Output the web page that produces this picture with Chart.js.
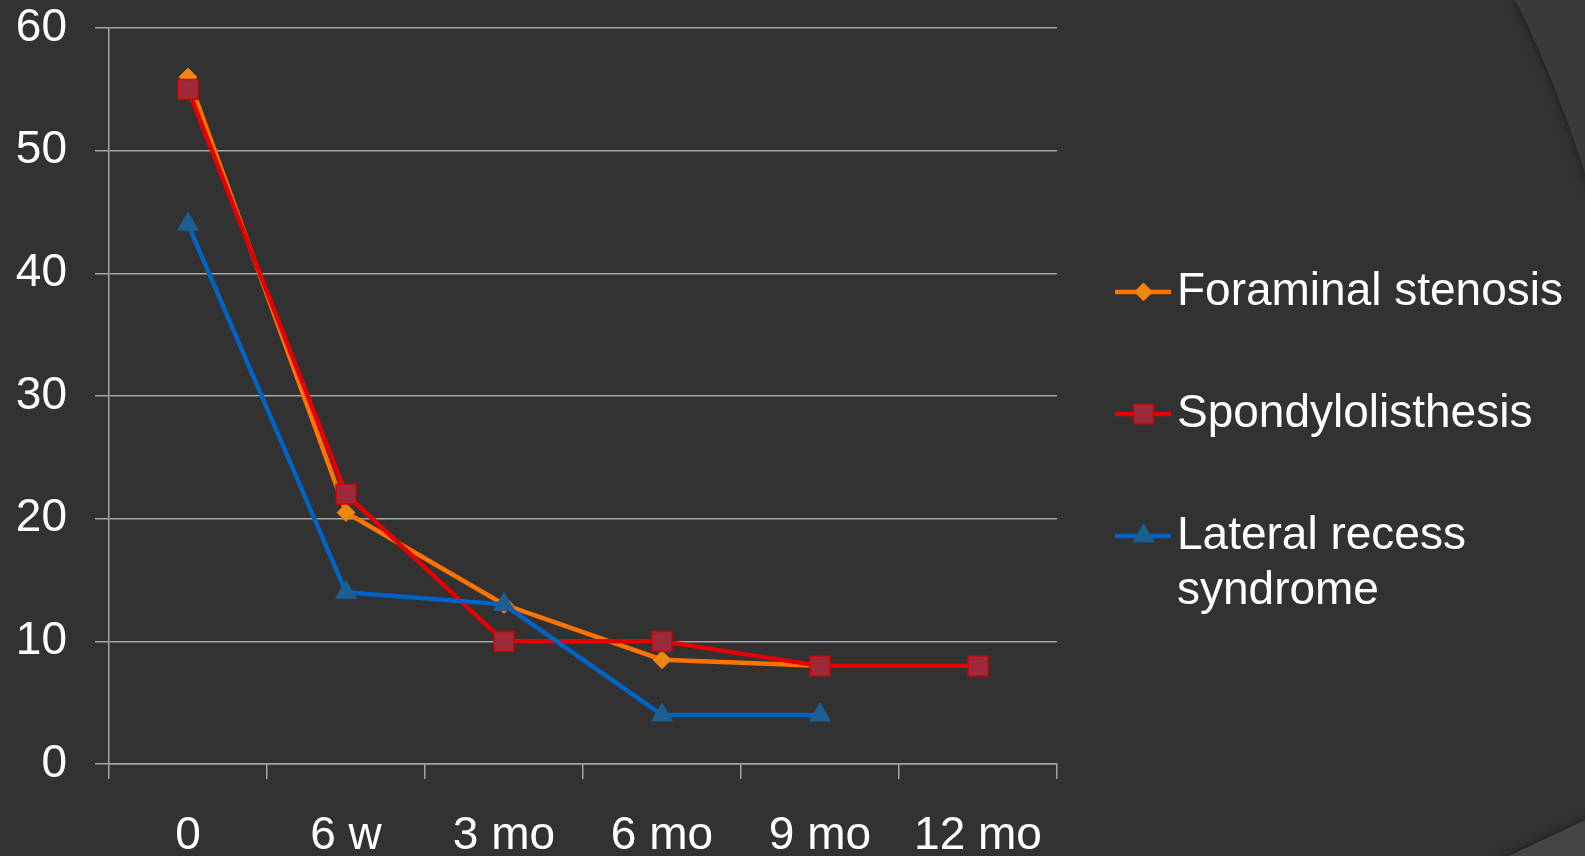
<!DOCTYPE html>
<html>
<head>
<meta charset="utf-8">
<script src="https://cdn.jsdelivr.net/npm/chart.js@4.4.1/dist/chart.umd.min.js"></script>
<style>
html, body { margin: 0; padding: 0; background: #323232; overflow: hidden; }
#chart { display: block; }
</style>
</head>
<body>
<canvas id="chart" width="1585" height="856"></canvas>
<script>
// Data
const categories = ['0', '6 w', '3 mo', '6 mo', '9 mo', '12 mo'];
const foraminal = [56, 20.5, 13, 8.5, 8, null];
const spondylolisthesis = [55, 22, 10, 10, 8, 8];
const lateralRecess = [44, 14, 13, 4, 4, null];
const yTicks = [0, 10, 20, 30, 40, 50, 60];
const seriesNames = ['Foraminal stenosis', 'Spondylolisthesis', 'Lateral recess syndrome'];
const legendLines = ['Foraminal stenosis', 'Spondylolisthesis', ['Lateral recess', 'syndrome']];

const fontFamily = "'Liberation Sans', Arial, sans-serif";
const gridColor = '#a4a4a4';

// small line+marker picture for each legend entry, like the Excel legend
function legendGlyph(lineColor, pointStyle, radius, fill, border) {
    const c = document.createElement('canvas');
    c.width = 56;
    c.height = 28;
    const g = c.getContext('2d');
    g.strokeStyle = lineColor;
    g.lineWidth = 4.5;
    g.beginPath();
    g.moveTo(0, 14);
    g.lineTo(56, 14);
    g.stroke();
    g.fillStyle = fill;
    g.strokeStyle = border;
    g.lineWidth = 1;
    Chart.helpers.drawPoint(g, { pointStyle: pointStyle, radius: radius, rotation: 0, borderWidth: 1 }, 28, 14);
    return c;
}

const glyphs = [
    legendGlyph('#ff7400', 'rectRot', 9, '#f0880f', '#f07800'),
    legendGlyph('#e40000', 'rect', 14, '#9c2a3a', '#d80000'),
    legendGlyph('#0062c2', 'triangle', 12, '#1c5f92', '#1c5f92')
];

// slide background with the theme's corner shapes
const backdrop = {
    id: 'backdrop',
    beforeDraw(chart) {
        const ctx = chart.ctx;
        ctx.save();
        ctx.fillStyle = '#323232';
        ctx.fillRect(0, 0, chart.width, chart.height);

        ctx.shadowColor = 'rgba(0,0,0,0.5)';
        ctx.shadowBlur = 8;
        ctx.fillStyle = '#3a3a3a';
        ctx.beginPath();
        ctx.moveTo(1515, 0);
        ctx.quadraticCurveTo(1556, 80, 1590, 190);
        ctx.lineTo(1590, 0);
        ctx.closePath();
        ctx.fill();

        ctx.fillStyle = '#454545';
        ctx.beginPath();
        ctx.moveTo(1500, 860);
        ctx.lineTo(1590, 818);
        ctx.lineTo(1590, 860);
        ctx.closePath();
        ctx.fill();
        ctx.restore();
    }
};

new Chart(document.getElementById('chart'), {
    type: 'line',
    data: {
        labels: categories,
        datasets: [{
            label: seriesNames[0],
            data: foraminal,
            borderColor: '#ff7400',
            backgroundColor: '#f0880f',
            borderWidth: 4.5,
            pointStyle: 'rectRot',
            pointRadius: 9,
            pointBackgroundColor: '#f0880f',
            pointBorderColor: '#f07800',
            pointBorderWidth: 1,
            order: 2
        }, {
            label: seriesNames[1],
            data: spondylolisthesis,
            borderColor: '#e40000',
            backgroundColor: '#9c2a3a',
            borderWidth: 4.5,
            pointStyle: 'rect',
            pointRadius: 14,
            pointBackgroundColor: '#9c2a3a',
            pointBorderColor: '#d80000',
            pointBorderWidth: 1.5,
            order: 1
        }, {
            label: seriesNames[2],
            data: lateralRecess,
            borderColor: '#0062c2',
            backgroundColor: '#1c5f92',
            borderWidth: 4.5,
            pointStyle: 'triangle',
            pointRadius: 12,
            pointBackgroundColor: '#1c5f92',
            pointBorderColor: '#1c5f92',
            pointBorderWidth: 1,
            order: 0
        }]
    },
    options: {
        responsive: false,
        animation: false,
        layout: { padding: { top: 28, left: 16, right: 12, bottom: 1 } },
        plugins: {
            tooltip: { enabled: false },
            legend: {
                position: 'right',
                align: 'center',
                maxWidth: 600,
                title: { display: true, text: '', font: { size: 1 }, padding: { top: 4, bottom: 4 } },
                labels: {
                    color: '#ffffff',
                    font: { family: fontFamily, size: 46 },
                    usePointStyle: true,
                    pointStyleWidth: 21,
                    padding: 76,
                    sort: (a, b) => a.datasetIndex - b.datasetIndex,
                    generateLabels(chart) {
                        const items = Chart.defaults.plugins.legend.labels.generateLabels(chart);
                        items.forEach(item => {
                            item.pointStyle = glyphs[item.datasetIndex];
                            item.text = legendLines[item.datasetIndex];
                        });
                        return items;
                    }
                }
            }
        },
        scales: {
            x: {
                type: 'category',
                offset: true,
                grid: { offset: true, drawOnChartArea: false, drawTicks: true, tickLength: 15, color: gridColor, lineWidth: 1.5 },
                border: { display: true, color: gridColor, width: 1.5 },
                ticks: { color: '#ffffff', font: { family: fontFamily, size: 46, lineHeight: 1 }, padding: 34, maxRotation: 0, autoSkip: false },
                afterFit: scale => {
                    scale.height = 91;
                    scale.paddingLeft = 0;
                    scale.paddingRight = 0;
                }
            },
            y: {
                min: 0,
                max: 60,
                afterBuildTicks: scale => { scale.ticks = yTicks.map(v => ({ value: v })); },
                grid: { color: gridColor, lineWidth: 1.5, tickLength: 14 },
                border: { display: true, color: gridColor, width: 1.5 },
                ticks: { color: '#ffffff', font: { family: fontFamily, size: 46 }, padding: 28 },
                afterFit: scale => {
                    scale.width = 93;
                    scale.paddingTop = 0;
                    scale.paddingBottom = 0;
                }
            }
        }
    },
    plugins: [backdrop]
});
</script>
</body>
</html>
